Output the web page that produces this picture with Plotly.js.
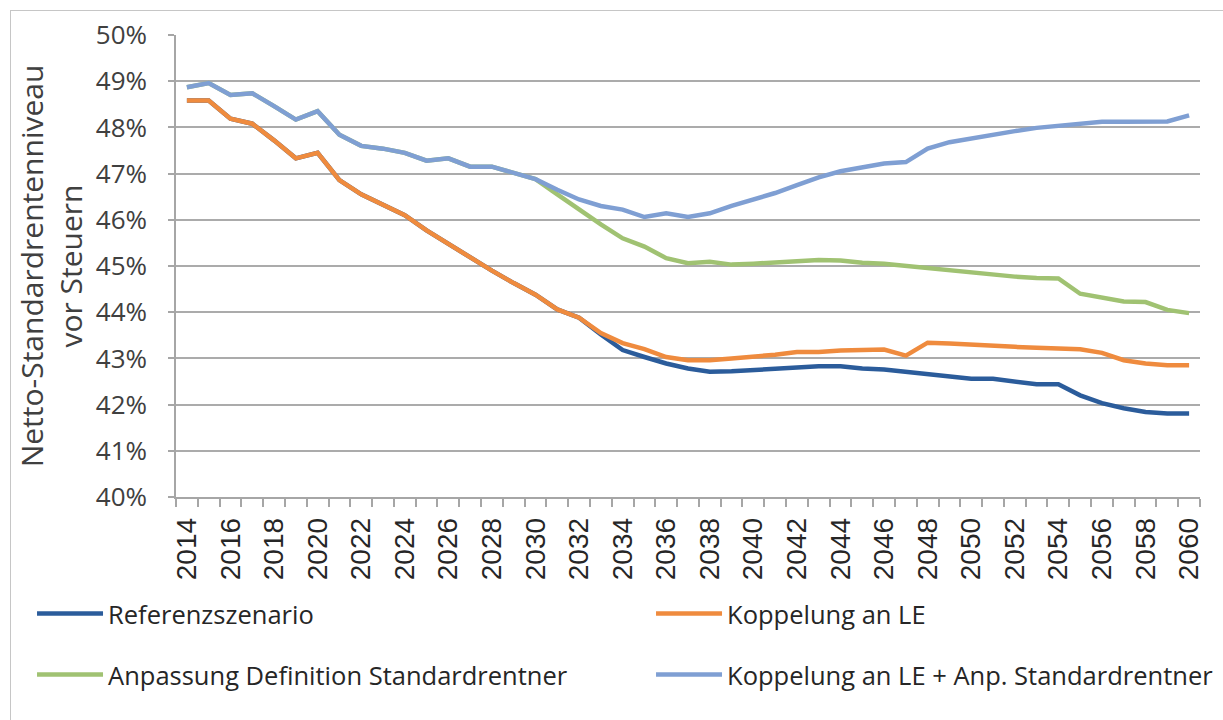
<!DOCTYPE html>
<html><head><meta charset="utf-8">
<script src="https://cdn.plot.ly/plotly-3.0.1.min.js"></script>
<style>
body{margin:0;background:#fff;}
#chart{width:1223px;height:720px;}
#frame{position:absolute;left:10px;top:10px;width:1300px;height:800px;border:1.5px solid #c6c6c6;pointer-events:none;}
</style>
</head><body>
<div id="chart"></div><div id="frame"></div>
<script>
const years = [2014,2015,2016,2017,2018,2019,2020,2021,2022,2023,2024,2025,2026,2027,2028,2029,2030,2031,2032,2033,2034,2035,2036,2037,2038,2039,2040,2041,2042,2043,2044,2045,2046,2047,2048,2049,2050,2051,2052,2053,2054,2055,2056,2057,2058,2059,2060];

const seriesNames = ['Referenzszenario','Koppelung an LE','Anpassung Definition Standardrentner','Koppelung an LE + Anp. Standardrentner'];

const referenz = [48.58,48.58,48.19,48.08,47.72,47.33,47.45,46.86,46.55,46.33,46.10,45.77,45.48,45.18,44.90,44.63,44.38,44.06,43.88,43.52,43.18,43.03,42.89,42.78,42.71,42.72,42.75,42.76,42.81,42.83,42.83,42.78,42.76,42.71,42.65,42.60,42.56,42.56,42.49,42.44,42.44,42.20,42.03,41.92,41.84,41.81,41.81];

const koppelungLE = [48.58,48.58,48.19,48.08,47.72,47.33,47.45,46.86,46.55,46.33,46.10,45.77,45.48,45.18,44.90,44.63,44.38,44.06,43.88,43.55,43.33,43.20,43.03,42.96,42.96,43.00,43.03,43.08,43.14,43.14,43.17,43.18,43.19,43.06,43.34,43.32,43.29,43.28,43.25,43.23,43.21,43.20,43.12,42.96,42.89,42.85,42.85];

const anpassung = [48.87,48.96,48.70,48.74,48.46,48.17,48.35,47.84,47.60,47.54,47.45,47.28,47.33,47.15,47.15,47.02,46.88,46.55,46.22,45.90,45.60,45.42,45.17,45.06,45.09,45.03,45.05,45.08,45.11,45.13,45.12,45.07,45.05,45.00,44.95,44.90,44.85,44.80,44.77,44.74,44.73,44.40,44.31,44.23,44.22,44.05,43.98];

const koppelungAnp = [48.87,48.96,48.70,48.74,48.46,48.17,48.35,47.84,47.60,47.54,47.45,47.28,47.33,47.15,47.15,47.02,46.88,46.65,46.44,46.30,46.22,46.06,46.14,46.06,46.14,46.30,46.43,46.58,46.75,46.92,47.05,47.14,47.22,47.25,47.54,47.68,47.76,47.86,47.92,47.99,48.04,48.08,48.12,48.12,48.13,48.13,48.26];

const colors = ['#2b5c9b','#ef8b3e','#a0c272','#7f9fd3'];
const values = [referenz, koppelungLE, anpassung, koppelungAnp];
const legendIds = ['legend','legend','legend2','legend2'];
const firstColumn = [true,false,true,false];

const traces = values.map((v,i)=>{
  const t = {
    type:'scatter', mode:'lines', x:years, y:v, name:seriesNames[i],
    line:{color:colors[i], width:4.5}, legend:legendIds[i],
    hovertemplate:'%{x}: %{y:.2f}%<extra>'+seriesNames[i]+'</extra>'
  };
  if(firstColumn[i]) t.legendwidth = 538;
  return t;
});

const legendBase = {orientation:'h', xanchor:'left', yanchor:'middle', itemwidth:66,
  font:{family:'Open Sans, sans-serif', size:25.5, color:'#262626'}, bgcolor:'rgba(0,0,0,0)', borderwidth:0};

const layout = {
  width:1223, height:720,
  margin:{l:176, r:23, t:35, b:223},
  paper_bgcolor:'#ffffff', plot_bgcolor:'#ffffff',
  font:{family:'Open Sans, sans-serif', color:'#404040'},
  showlegend:true,
  xaxis:{
    range:[2013.5,2060.5], tick0:2014, dtick:2, tickangle:-90, ticks:'',
    showgrid:false, zeroline:false, showline:true, linecolor:'#a6a6a6', linewidth:1.5,
    tickfont:{family:'Liberation Sans, Arial, sans-serif', size:28, color:'#262626'},
    ticklabelstandoff:8,
    minor:{tick0:2013.5, dtick:1, ticks:'outside', ticklen:8, tickcolor:'#a6a6a6', tickwidth:1.5, showgrid:false},
    fixedrange:true
  },
  yaxis:{
    range:[40,50], tick0:40, dtick:1, ticksuffix:'%', ticks:'outside', ticklen:6,
    tickcolor:'#a6a6a6', tickwidth:1.5, showline:true, linecolor:'#a6a6a6', linewidth:1.5,
    showgrid:true, gridcolor:'#ababab', gridwidth:2, zeroline:false,
    tickfont:{family:'Open Sans, sans-serif', size:26, color:'#404040'},
    ticklabelstandoff:16,
    title:{text:'Netto-Standardrentenniveau<br>vor Steuern', font:{family:'Open Sans, sans-serif', size:30, color:'#404040'}, standoff:4},
    fixedrange:true
  },
  legend:Object.assign({}, legendBase, {x:-0.1406, y:-0.2532}),
  legend2:Object.assign({}, legendBase, {x:-0.1406, y:-0.3853})
};

Plotly.newPlot('chart', traces, layout, {displayModeBar:false, responsive:false});
</script>
</body></html>
